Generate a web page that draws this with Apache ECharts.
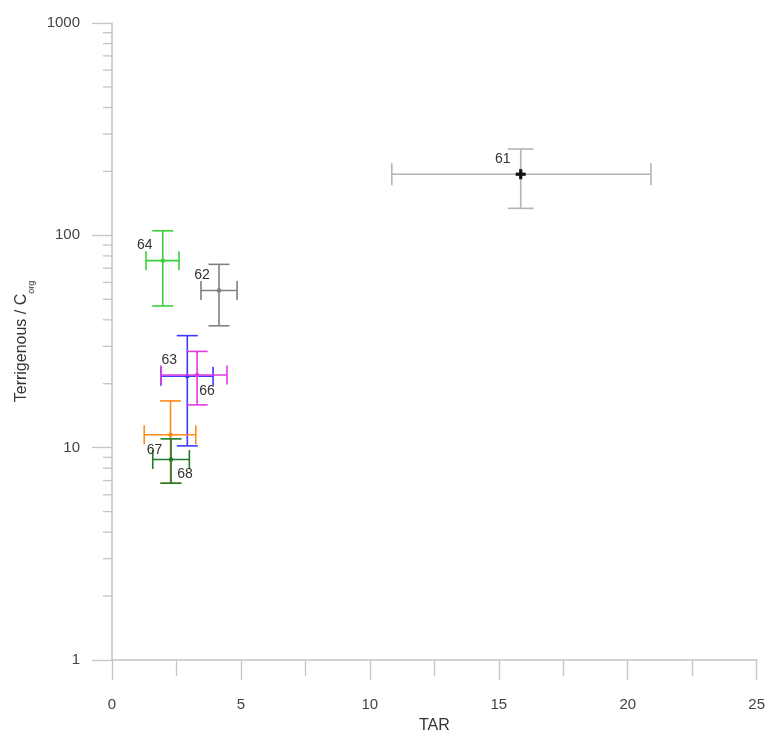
<!DOCTYPE html>
<html>
<head>
<meta charset="utf-8">
<script src="https://cdn.jsdelivr.net/npm/echarts@6/dist/echarts.min.js"></script>
<style>html,body{margin:0;padding:0;background:#fff}#c{width:768px;height:739px}</style>
</head>
<body>
<div id="c"></div>
<script>
// ---- data ----
var sampleLabels = ['61', '62', '63', '64', '66', '67', '68'];
var tar      = [15.85, 4.15, 2.92, 1.97, 3.3, 2.27, 2.29];
var tarLow   = [10.85, 3.45, 1.9, 1.32, 1.9, 1.25, 1.58];
var tarHigh  = [20.9, 4.85, 3.92, 2.6, 4.46, 3.25, 3.0];
var ratio     = [194, 55, 21.7, 76, 22.0, 11.5, 8.8];
var ratioLow  = [134, 37.5, 10.2, 46.5, 15.9, 6.8, 6.8];
var ratioHigh = [255, 73, 33.7, 105, 28.4, 16.6, 11.0];
var yMinorTicks = [2,3,4,5,6,7,8,9,20,30,40,50,60,70,80,90,200,300,400,500,600,700,800,900];

// ---- styles ----
var colors = {'61':'#b4b4b4','62':'#808080','63':'#3b3bff','64':'#3ad03a','66':'#e23ae2','67':'#ff8a1e','68':'#1f7a2a'};
var labelOffset = {'61':[-18,-15],'62':[-17,-15],'63':[-18,-16],'64':[-18,-15],'66':[10,16],'67':[-16,15],'68':[14,15]};
var capSize = {'61':[26,22]};

var chart = echarts.init(document.getElementById('c'));
var points = sampleLabels.map(function (n, i) {
  return [tar[i], ratio[i], tarLow[i], tarHigh[i], ratioLow[i], ratioHigh[i], i];
});

function renderErr(params, api) {
  var i = api.value(6);
  var name = sampleLabels[i];
  var col = colors[name];
  var c = api.coord([api.value(0), api.value(1)]);
  var l = api.coord([api.value(2), api.value(1)]);
  var r = api.coord([api.value(3), api.value(1)]);
  var b = api.coord([api.value(0), api.value(4)]);
  var t = api.coord([api.value(0), api.value(5)]);
  var cs = capSize[name] || [21, 19];
  var hw = cs[0] / 2, hh = cs[1] / 2;
  var st = {stroke: col, lineWidth: 1.6};
  var ch = [
    {type:'line', shape:{x1:l[0], y1:l[1], x2:r[0], y2:r[1]}, style:st},
    {type:'line', shape:{x1:b[0], y1:b[1], x2:t[0], y2:t[1]}, style:st},
    {type:'line', shape:{x1:l[0], y1:l[1]-hh, x2:l[0], y2:l[1]+hh}, style:st},
    {type:'line', shape:{x1:r[0], y1:r[1]-hh, x2:r[0], y2:r[1]+hh}, style:st},
    {type:'line', shape:{x1:t[0]-hw, y1:t[1], x2:t[0]+hw, y2:t[1]}, style:st},
    {type:'line', shape:{x1:b[0]-hw, y1:b[1], x2:b[0]+hw, y2:b[1]}, style:st}
  ];
  if (name === '61') {
    ch.push({type:'line', shape:{x1:c[0]-5, y1:c[1], x2:c[0]+5, y2:c[1]}, style:{stroke:'#111', lineWidth:3.2}});
    ch.push({type:'line', shape:{x1:c[0], y1:c[1]-5, x2:c[0], y2:c[1]+5}, style:{stroke:'#111', lineWidth:3.2}});
  } else {
    ch.push({type:'circle', shape:{cx:c[0], cy:c[1], r:2.2}, style:{fill:col}});
  }
  var off = labelOffset[name];
  ch.push({type:'text', z2: 10, style:{text:name, x:c[0]+off[0], y:c[1]+off[1], fill:'#333',
    font:'14px "Liberation Sans", Arial, sans-serif', align:'center', verticalAlign:'middle'}});
  return {type:'group', children: ch};
}

function renderMinor(params, api) {
  var p = api.coord([0, api.value(0)]);
  return {type:'line', shape:{x1:p[0]-9, y1:p[1], x2:p[0], y2:p[1]}, style:{stroke:'#c4c4c4', lineWidth:1.3}};
}

chart.setOption({
  animation: false,
  backgroundColor: '#fff',
  textStyle: {fontFamily: '"Liberation Sans", Arial, sans-serif'},
  grid: {left: 112, right: 11, top: 23, bottom: 71, containLabel: false},
  xAxis: {
    type: 'value', min: 0, max: 25, interval: 5,
    name: 'TAR', nameLocation: 'middle', nameGap: 58,
    nameTextStyle: {fontSize: 16, color: '#333'},
    axisLine: {show: true, lineStyle: {color: '#c4c4c4', width: 1.5}},
    axisTick: {show: true, length: 20, lineStyle: {color: '#c4c4c4', width: 1.3}},
    minorTick: {show: true, splitNumber: 2, length: 16, lineStyle: {color: '#c4c4c4', width: 1.3}},
    axisLabel: {fontSize: 15, color: '#444', margin: 37},
    splitLine: {show: false}
  },
  yAxis: {
    type: 'log', logBase: 10, min: 1, max: 1000,
    name: '{a|Terrigenous / C}{b|org}', nameLocation: 'middle', nameGap: 78,
    nameTextStyle: {
      color: '#333',
      rich: {
        a: {fontSize: 16, color: '#333', lineHeight: 22, verticalAlign: 'middle'},
        b: {fontSize: 9, color: '#333', lineHeight: 9, verticalAlign: 'bottom', padding: [0, 0, -3, 0]}
      }
    },
    axisLine: {show: true, lineStyle: {color: '#c4c4c4', width: 1.5}},
    axisTick: {show: true, length: 20, lineStyle: {color: '#c4c4c4', width: 1.3}},
    minorTick: {show: false},
    axisLabel: {fontSize: 15, color: '#444', margin: 32, showMinLabel: true, showMaxLabel: true,
      formatter: function (v) { return String(Math.round(v)); }},
    splitLine: {show: false}
  },
  series: [
    {type: 'custom', name: 'minor', data: yMinorTicks.map(function (v) { return [v]; }),
     encode: {y: 0}, renderItem: renderMinor, clip: false, silent: true, z: 1},
    {type: 'custom', name: 'samples', data: points,
     encode: {x: 0, y: 1}, renderItem: renderErr, clip: false, z: 3}
  ]
});
</script>
</body>
</html>
